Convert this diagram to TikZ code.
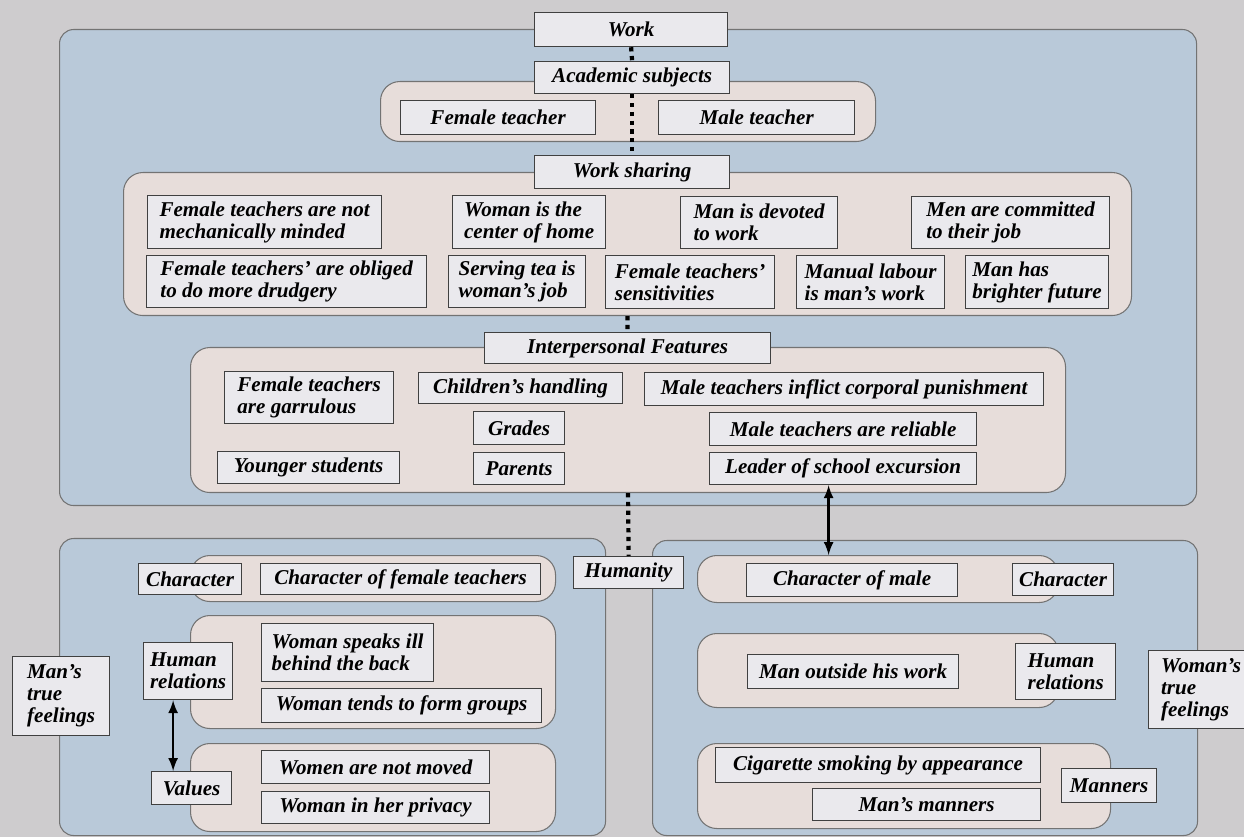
\documentclass[tikz,border=0pt]{standalone}
\usepackage{fontspec}
\setmainfont{Liberation Serif}
\definecolor{bggray}{RGB}{206,204,206}
\definecolor{panelblue}{RGB}{185,201,217}
\definecolor{grouppink}{RGB}{231,221,218}
\definecolor{boxgray}{RGB}{234,233,237}
\newcommand{\itemfont}{\fontsize{12}{12.5}\selectfont\bfseries\itshape}
\tikzstyle{panel} = [draw=black!55, fill=panelblue, rounded corners=8pt, line width=0.6pt, anchor=north west, inner sep=0pt]
\tikzstyle{group} = [draw=black!55, fill=grouppink, rounded corners=11pt, line width=0.6pt, anchor=north west, inner sep=0pt]
\tikzstyle{block} = [draw=black!75, fill=boxgray, line width=0.7pt, font=\itemfont, align=left, anchor=north west, inner sep=2pt]
\tikzstyle{link} = [line width=2.4pt, dash pattern=on 2.4pt off 2.6pt]
\tikzstyle{dbl} = [<->, line width=1.5pt]
\tikzset{wh/.style 2 args={minimum width=#1*0.02cm, minimum height=#2*0.02cm}}

\begin{document}
\begin{tikzpicture}[x=0.02cm, y=-0.02cm, >=latex]
\useasboundingbox (0,0) rectangle (1244,837);
\clip (0,0) rectangle (1244,837);
\fill [bggray] (0,0) rectangle (1244,837);

% blue panels
\node [panel, wh={1137}{476}] (workpanel) at (59,29) {};
\node [panel, wh={546}{297}] (leftpanel) at (59,538) {};
\node [panel, wh={545}{295}] (rightpanel) at (652,540) {};

% pink groups
\node [group, wh={495}{60}] (acadgrp) at (380,81) {};
\node [group, wh={1008}{143}] (sharegrp) at (123,172) {};
\node [group, wh={875}{145}] (intergrp) at (190,347) {};
\node [group, wh={365}{46}] (lgrp1) at (190,555) {};
\node [group, wh={365}{113}] (lgrp2) at (190,615) {};
\node [group, wh={365}{88}] (lgrp3) at (190,743) {};
\node [group, wh={361}{47}] (rgrp1) at (697,555) {};
\node [group, wh={361}{74}] (rgrp2) at (697,633) {};
\node [group, wh={413}{85}] (rgrp3) at (697,743) {};

% work
\node [block, wh={193}{34}] (work) at (534,12) {Work};
\node [block, wh={195}{32}] (acad) at (534,61) {Academic subjects};
\node [block, wh={195}{34}] (femt) at (400,100) {Female teacher};
\node [block, wh={196}{34}] (malet) at (658,100) {Male teacher};
\node [block, wh={195}{33}] (share) at (534,155) {Work sharing};

\node [block, wh={234}{53}] (notmech) at (147,195) {Female teachers are not\\mechanically minded};
\node [block, wh={153}{53}] (centre) at (452,195) {Woman is the\\center of home};
\node [block, wh={157}{52}] (devoted) at (680,196) {Man is devoted\\to work};
\node [block, wh={198}{52}] (commit) at (911,196) {Men are committed\\to their job};
\node [block, wh={280}{52}] (drudge) at (146,255) {Female teachers' are obliged\\to do more drudgery};
\node [block, wh={137}{52}] (tea) at (448,255) {Serving tea is\\woman's job};
\node [block, wh={169}{53}] (sensit) at (605,255) {Female teachers'\\sensitivities};
\node [block, wh={148}{53}] (manual) at (796,255) {Manual labour\\is man's work};
\node [block, wh={143}{53}] (future) at (965,255) {Man has\\brighter future};

% interpersonal
\node [block, wh={286}{31}] (inter) at (484,332) {Interpersonal Features};
\node [block, wh={169}{52}] (garrul) at (224,371) {Female teachers\\are garrulous};
\node [block, wh={204}{31}] (handling) at (418,372) {Children's handling};
\node [block, wh={399}{33}] (punish) at (644,372) {Male teachers inflict corporal punishment};
\node [block, wh={91}{33}] (grades) at (473,411) {Grades};
\node [block, wh={267}{33}] (reliable) at (709,412) {Male teachers are reliable};
\node [block, wh={182}{32}] (younger) at (217,451) {Younger students};
\node [block, wh={91}{32}] (parents) at (473,452) {Parents};
\node [block, wh={267}{32}] (leader) at (709,452) {Leader of school excursion};

% humanity, left
\node [block, wh={110}{32}] (human) at (573,556) {Humanity};
\node [block, wh={103}{31}] (charL) at (138,563) {Character};
\node [block, wh={280}{31}] (charF) at (260,563) {Character of female teachers};
\node [block, wh={89}{57}] (hrelL) at (143,642) {Human\\relations};
\node [block, wh={172}{58}] (speak) at (261,623) {Woman speaks ill\\behind the back};
\node [block, wh={280}{34}] (groups) at (261,688) {Woman tends to form groups};
\node [block, wh={228}{33}] (notmoved) at (261,750) {Women are not moved};
\node [block, wh={228}{32}] (privacy) at (261,791) {Woman in her privacy};
\node [block, wh={80}{33}] (valL) at (151,771) {Values};
\node [block, wh={97}{79}] (mantrue) at (12,656) {Man's\\true\\feelings};

% humanity, right
\node [block, wh={211}{33}] (charM) at (746,563) {Character of male};
\node [block, wh={101}{32}] (charR) at (1012,563) {Character};
\node [block, wh={211}{34}] (outside) at (747,654) {Man outside his work};
\node [block, wh={100}{56}] (hrelR) at (1015,643) {Human\\relations};
\node [block, wh={105}{78}] (womtrue) at (1148,650) {Woman's\\true\\feelings};
\node [block, wh={325}{35}] (cigar) at (715,747) {Cigarette smoking by appearance};
\node [block, wh={228}{32}] (mmanners) at (812,788) {Man's manners};
\node [block, wh={95}{34}] (manners) at (1061,768) {Manners};

% connectors
\draw [link] (work.south) -- (acad.north);
\draw [link] (acad.south) -- (share.north);
\draw [link] (sharegrp.south) -- (inter.north);
\draw [link] (intergrp.south) -- (human.north);
\draw [dbl] ([xshift=-0.29cm]leader.south) -- ([xshift=-0.29cm]leader.south |- rgrp1.north);
\draw [dbl] ([xshift=-0.3cm]hrelL.south) -- ([xshift=-0.3cm]hrelL.south |- valL.north);

\end{tikzpicture}
\end{document}
